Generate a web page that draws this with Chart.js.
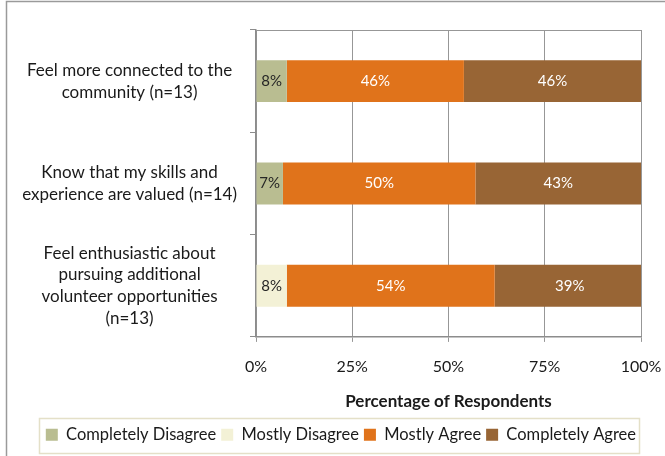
<!DOCTYPE html>
<html>
<head>
<meta charset="utf-8">
<script src="https://cdn.jsdelivr.net/npm/chart.js@4.4.1/dist/chart.umd.min.js"></script>
<style>
  html, body { margin: 0; padding: 0; background: #fff; }
  #wrap { width: 665px; height: 456px; position: relative; }
</style>
</head>
<body>
<div id="wrap"><canvas id="chart"></canvas></div>
<script>
const categories = [
    ['Feel more connected to the', 'community (n=13)'],
    ['Know that my skills and', 'experience are valued (n=14)'],
    ['Feel enthusiastic about', 'pursuing additional', 'volunteer opportunities', '(n=13)']
];
const completelyDisagree = [8, 7, 0];
const mostlyDisagree = [0, 0, 8];
const mostlyAgree = [46, 50, 54];
const completelyAgree = [46, 43, 39];
const tickValues = [0, 25, 50, 75, 100];

const FONT = 'Lato, "Open Sans", sans-serif';
const gridGray = '#979797';

// outer frame, plot top border, legend frame and bar value labels
const decor = {
    id: 'decor',
    beforeDraw(chart) {
        const ctx = chart.ctx;
        ctx.save();
        ctx.fillStyle = '#fff';
        ctx.fillRect(0, 0, chart.width, chart.height);
        ctx.strokeStyle = '#9a9a9a';
        ctx.lineWidth = 1.5;
        ctx.beginPath();
        ctx.moveTo(6.5, chart.height);
        ctx.lineTo(6.5, 1.5);
        ctx.lineTo(chart.width, 1.5);
        ctx.stroke();
        ctx.restore();
    },
    afterDraw(chart) {
        const ctx = chart.ctx;
        const a = chart.chartArea;
        ctx.save();
        ctx.strokeStyle = gridGray;
        ctx.lineWidth = 1;
        ctx.beginPath();
        ctx.moveTo(a.left, Math.round(a.top) + 0.5);
        ctx.lineTo(a.right, Math.round(a.top) + 0.5);
        ctx.stroke();

        const hb = chart.legend.legendHitBoxes;
        if (hb && hb.length) {
            const l = Math.min(...hb.map(h => h.left)) - 7;
            const r = Math.max(...hb.map(h => h.left + h.width)) + 3;
            const t = hb[0].top - 9;
            const b = hb[0].top + hb[0].height + 9;
            ctx.strokeStyle = '#e4e0c8';
            ctx.lineWidth = 1.5;
            ctx.strokeRect(Math.round(l) + 0.5, Math.round(t) + 0.5, Math.round(r - l), Math.round(b - t));
        }

        ctx.font = '15px ' + FONT;
        ctx.textAlign = 'center';
        ctx.textBaseline = 'middle';
        chart.data.datasets.forEach((ds, i) => {
            const meta = chart.getDatasetMeta(i);
            meta.data.forEach((bar, j) => {
                const v = ds.data[j];
                if (!v) return;
                const p = bar.getCenterPoint();
                ctx.fillStyle = i < 2 ? '#262626' : '#ffffff';
                ctx.fillText(v + '%', p.x, p.y);
            });
        });
        ctx.restore();
    }
};

new Chart(document.getElementById('chart'), {
    type: 'bar',
    data: {
        labels: categories,
        datasets: [
            { label: 'Completely Disagree', data: completelyDisagree, backgroundColor: '#b9bd91' },
            { label: 'Mostly Disagree', data: mostlyDisagree, backgroundColor: '#f3f1d6' },
            { label: 'Mostly Agree', data: mostlyAgree, backgroundColor: '#e0731b' },
            { label: 'Completely Agree', data: completelyAgree, backgroundColor: '#986535' }
        ]
    },
    options: {
        indexAxis: 'y',
        responsive: true,
        maintainAspectRatio: false,
        animation: false,
        events: [],
        barPercentage: 0.41,
        categoryPercentage: 1,
        layout: { padding: { left: 0, right: 24, top: 30, bottom: 3 } },
        scales: {
            x: {
                stacked: true,
                min: 0,
                max: 100,
                afterBuildTicks(scale) {
                    scale.ticks = tickValues.map(v => ({ value: v }));
                },
                afterFit(scale) {
                    scale.paddingLeft = 0;
                    scale.paddingRight = 0;
                },
                ticks: {
                    callback: v => v + '%',
                    color: '#1a1a1a',
                    font: { family: FONT, size: 16 },
                    padding: 15
                },
                grid: { color: gridGray, tickLength: 5, lineWidth: 1 },
                border: { color: '#8c8c8c', width: 1.5 },
                title: {
                    display: true,
                    text: 'Percentage of Respondents',
                    color: '#1a1a1a',
                    font: { family: FONT, size: 17, weight: 'bold' },
                    padding: { top: 0, bottom: 10 }
                }
            },
            y: {
                stacked: true,
                afterFit(scale) {
                    scale.width = 256;
                    scale.paddingTop = 0;
                    scale.paddingBottom = 0;
                },
                ticks: {
                    autoSkip: false,
                    crossAlign: 'center',
                    color: '#1a1a1a',
                    font: { family: FONT, size: 17, lineHeight: 1.28 },
                    padding: 13
                },
                grid: { offset: true, drawOnChartArea: false, tickLength: 6, color: '#8c8c8c' },
                border: { color: '#8c8c8c', width: 1.5 }
            }
        },
        plugins: {
            legend: {
                position: 'bottom',
                align: 'end',
                labels: {
                    boxWidth: 12,
                    boxHeight: 12,
                    padding: 5,
                    color: '#1a1a1a',
                    font: { family: FONT, size: 16.5 }
                }
            },
            tooltip: { enabled: false }
        }
    },
    plugins: [decor]
});
</script>
</body>
</html>
